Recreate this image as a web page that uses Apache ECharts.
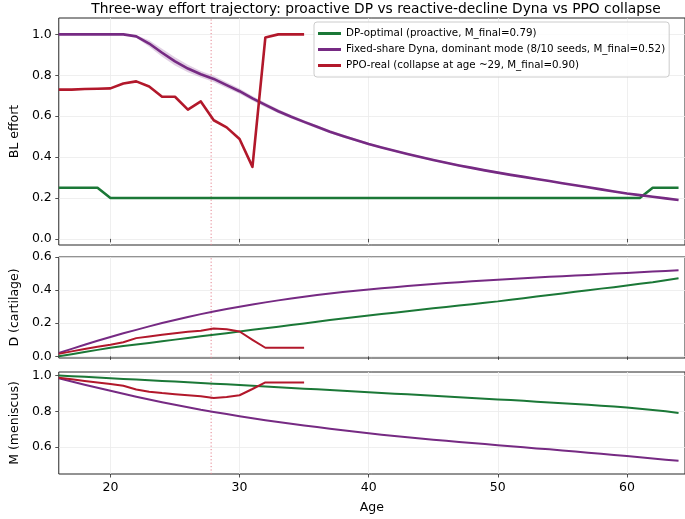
<!DOCTYPE html>
<html><head><meta charset="utf-8">
<script src="https://cdn.jsdelivr.net/npm/echarts@6/dist/echarts.min.js"></script>
<style>html,body{margin:0;padding:0;background:#fff}#c{width:685px;height:519px}</style>
</head><body><div id="c"></div>
<script>
// ---------- data ----------
const ages = [16,17,18,19,20,21,22,23,24,25,26,27,28,29,30,31,32,33,34,35,36,37,38,39,40,
  41,42,43,44,45,46,47,48,49,50,51,52,53,54,55,56,57,58,59,60,61,62,63,64];
const pposAges = [16,17,18,19,20,21,22,23,24,25,26,27,28,29,30,31,32,33,34,35];

const dpEffort = [0.25,0.25,0.25,0.25,0.20,0.20,0.20,0.20,0.20,0.20,0.20,0.20,0.20,0.20,0.20,
  0.20,0.20,0.20,0.20,0.20,0.20,0.20,0.20,0.20,0.20,0.20,0.20,0.20,0.20,0.20,0.20,0.20,0.20,
  0.20,0.20,0.20,0.20,0.20,0.20,0.20,0.20,0.20,0.20,0.20,0.20,0.20,0.25,0.25,0.25];
const dynaEffort = [1,1,1,1,1,1,0.99,0.955,0.91,0.868,0.833,0.805,0.782,0.752,0.722,0.687,0.655,
  0.624,0.597,0.572,0.548,0.524,0.503,0.483,0.464,0.447,0.431,0.415,0.400,0.386,0.372,0.359,
  0.347,0.335,0.324,0.313,0.303,0.293,0.283,0.272,0.262,0.252,0.242,0.232,0.222,0.214,0.206,
  0.198,0.190];
const dynaBandHalf = [0,0,0,0,0,0,0.006,0.016,0.02,0.02,0.018,0.016,0.015,0.014,0.013,0.012,
  0.011,0.010,0.009,0.008,0.008,0.007,0.007,0.006,0.006,0.005,0.005,0.005,0.005,0.005,0.005,
  0.005,0.005,0.005,0.005,0.004,0.004,0.004,0.004,0.004,0.004,0.004,0.004,0.004,0.004,0.004,
  0.004,0.004,0.004];
const ppoEffort = [0.73,0.73,0.733,0.734,0.736,0.76,0.77,0.745,0.695,0.695,0.632,0.672,0.58,
  0.545,0.488,0.352,0.985,1.0,1.0,1.0];

const dpD = [0.000,0.013,0.026,0.039,0.052,0.062,0.072,0.081,0.091,0.101,0.111,0.121,0.130,
  0.140,0.150,0.160,0.170,0.179,0.189,0.199,0.209,0.219,0.228,0.238,0.247,0.256,0.264,0.273,
  0.281,0.290,0.298,0.307,0.315,0.324,0.332,0.342,0.351,0.361,0.370,0.380,0.390,0.399,0.409,
  0.418,0.428,0.438,0.448,0.460,0.471];
const dynaD = [0.020,0.045,0.070,0.094,0.117,0.139,0.160,0.181,0.201,0.220,0.238,0.255,0.271,
  0.286,0.300,0.313,0.326,0.338,0.349,0.360,0.370,0.379,0.388,0.396,0.404,0.411,0.418,0.425,
  0.431,0.437,0.443,0.448,0.453,0.458,0.463,0.467,0.472,0.476,0.480,0.484,0.488,0.492,0.496,
  0.500,0.504,0.508,0.512,0.516,0.520];
const ppoD = [0.015,0.030,0.045,0.058,0.070,0.085,0.110,0.120,0.130,0.140,0.148,0.155,0.168,
  0.163,0.150,0.100,0.052,0.052,0.052,0.052];

const dpM = [1.000,0.996,0.993,0.989,0.985,0.981,0.978,0.974,0.970,0.967,0.963,0.959,0.955,
  0.951,0.947,0.943,0.939,0.935,0.931,0.927,0.923,0.919,0.915,0.911,0.907,0.903,0.899,0.895,
  0.891,0.887,0.883,0.879,0.875,0.871,0.867,0.863,0.859,0.854,0.850,0.846,0.841,0.837,0.832,
  0.827,0.822,0.815,0.808,0.800,0.791];
const dynaM = [0.985,0.967,0.949,0.932,0.915,0.898,0.882,0.866,0.851,0.837,0.823,0.809,0.797,
  0.785,0.773,0.762,0.751,0.741,0.731,0.721,0.712,0.703,0.694,0.686,0.678,0.670,0.663,0.656,
  0.649,0.642,0.636,0.629,0.623,0.617,0.611,0.605,0.599,0.593,0.588,0.582,0.576,0.569,0.563,
  0.556,0.550,0.543,0.537,0.530,0.524];
const ppoM = [0.988,0.979,0.970,0.961,0.953,0.943,0.922,0.910,0.902,0.896,0.890,0.885,0.875,
  0.880,0.890,0.925,0.962,0.962,0.962,0.962];

const markerAge = 27.8;
const xTicks = [20,30,40,50,60];
const yTicksEffort = [0.0,0.2,0.4,0.6,0.8,1.0];
const yTicksD = [0.0,0.2,0.4,0.6];
const yTicksM = [0.6,0.8,1.0];

const names = ['DP-optimal (proactive, M_final=0.79)',
  'Fixed-share Dyna, dominant mode (8/10 seeds, M_final=0.52)',
  'PPO-real (collapse at age ~29, M_final=0.90)'];
const colors = ['#1b7837','#762a83','#b2182b'];

// ---------- build ----------
const FONT = 'DejaVu Sans';
const TXT = '#000';
const SPINE = '#262626';
const pair = (xs, ys) => xs.map((x, i) => [x, ys[i]]);

const gridTops = [18, 257, 372];
const gridHeights = [227, 101, 102];
const grids = gridTops.map((t, i) => ({
  left: 58, right: -1, top: t, height: gridHeights[i],
  show: true, borderColor: SPINE, borderWidth: 1, backgroundColor: 'transparent'
}));

const xAxes = [0,1,2].map(i => ({
  type: 'value', gridIndex: i, min: 16, max: 64.5,
  axisLine: {show: false},
  axisTick: {show: true, inside: false, length: 3.5, customValues: xTicks,
    lineStyle: {color: SPINE, width: 0.8}},
  axisLabel: {show: i === 2, customValues: xTicks, margin: 7,
    fontFamily: FONT, fontSize: 12.5, color: TXT},
  splitLine: {show: true, lineStyle: {color: '#ebebeb', width: 0.8}},
  name: i === 2 ? 'Age' : '', nameLocation: 'middle', nameGap: 27,
  nameTextStyle: {fontFamily: FONT, fontSize: 12.5, color: TXT}
}));

const yCfg = [
  {min: -0.03, max: 1.08, ticks: yTicksEffort, name: 'BL effort'},
  {min: -0.01, max: 0.6, ticks: yTicksD, name: 'D (cartilage)'},
  {min: 0.45, max: 1.02, ticks: yTicksM, name: 'M (meniscus)'}
];
const yAxes = yCfg.map((c, i) => ({
  type: 'value', gridIndex: i, min: c.min, max: c.max,
  axisLine: {show: false},
  axisTick: {show: true, inside: false, length: 3.5, customValues: c.ticks,
    lineStyle: {color: SPINE, width: 0.8}},
  axisLabel: {show: true, customValues: c.ticks, margin: 7,
    fontFamily: FONT, fontSize: 12.5, color: TXT,
    formatter: v => v.toFixed(1)},
  splitLine: {show: true, lineStyle: {color: '#ebebeb', width: 0.8}},
  name: c.name, nameLocation: 'middle', nameGap: 33, nameRotate: 90,
  nameTextStyle: {fontFamily: FONT, fontSize: 12.5, color: TXT}
}));

const bandUpper = dynaEffort.map((v, i) => v + dynaBandHalf[i]);
const bandLower = dynaEffort.map((v, i) => v - dynaBandHalf[i]);

function lineSeries(idx, name, xs, ys, color, width) {
  return {
    type: 'line', name, xAxisIndex: idx, yAxisIndex: idx,
    data: pair(xs, ys), showSymbol: false, symbol: 'none',
    lineStyle: {color, width, cap: 'butt', join: 'round'}, itemStyle: {color},
    emphasis: {disabled: true}, z: 3
  };
}

function markerSeries(idx) {
  const c = yCfg[idx];
  return {
    type: 'line', name: 'marker', xAxisIndex: idx, yAxisIndex: idx,
    data: [[markerAge, c.min], [markerAge, c.max]],
    showSymbol: false, symbol: 'none', silent: true, z: 2,
    lineStyle: {color: '#e3818f', width: 1, type: [1.2, 2.2], cap: 'butt'},
    itemStyle: {color: '#e3818f'}, emphasis: {disabled: true}
  };
}

const series = [
  markerSeries(0), markerSeries(1), markerSeries(2),
  {
    type: 'custom', name: 'band', xAxisIndex: 0, yAxisIndex: 0, silent: true, z: 2,
    data: [[ages[0], bandUpper[0]]],
    renderItem: (params, api) => {
      const pts = [];
      for (let i = 0; i < ages.length; i++) pts.push(api.coord([ages[i], bandUpper[i]]));
      for (let i = ages.length - 1; i >= 0; i--) pts.push(api.coord([ages[i], bandLower[i]]));
      return {type: 'polygon', shape: {points: pts},
        style: {fill: 'rgba(118,42,131,0.22)', stroke: 'none'}};
    }
  },
  lineSeries(0, names[0], ages, dpEffort, colors[0], 2.6),
  lineSeries(0, names[1], ages, dynaEffort, colors[1], 2.6),
  lineSeries(0, names[2], pposAges, ppoEffort, colors[2], 2.6),
  lineSeries(1, names[0], ages, dpD, colors[0], 2),
  lineSeries(1, names[1], ages, dynaD, colors[1], 2),
  lineSeries(1, names[2], pposAges, ppoD, colors[2], 2),
  lineSeries(2, names[0], ages, dpM, colors[0], 2),
  lineSeries(2, names[1], ages, dynaM, colors[1], 2),
  lineSeries(2, names[2], pposAges, ppoM, colors[2], 2)
];

const option = {
  animation: false,
  backgroundColor: '#fff',
  title: {
    text: 'Three-way effort trajectory: proactive DP vs reactive-decline Dyna vs PPO collapse',
    left: 371, textAlign: 'center', top: -3,
    textStyle: {fontFamily: FONT, fontSize: 13.8, fontWeight: 'normal', color: TXT}
  },
  legend: {
    data: names, orient: 'vertical', left: 314, top: 22,
    icon: 'rect', itemWidth: 23, itemHeight: 3, itemGap: 3,
    backgroundColor: 'rgba(255,255,255,0.8)', borderColor: '#cccccc', borderWidth: 1,
    borderRadius: 3, padding: [5, 4, 5, 4],
    selectedMode: false,
    textStyle: {fontFamily: FONT, fontSize: 10.3, color: TXT, lineHeight: 13}
  },
  grid: grids, xAxis: xAxes, yAxis: yAxes, series
};

const chart = echarts.init(document.getElementById('c'), null, {renderer: 'canvas'});
chart.setOption(option);
</script></body></html>
